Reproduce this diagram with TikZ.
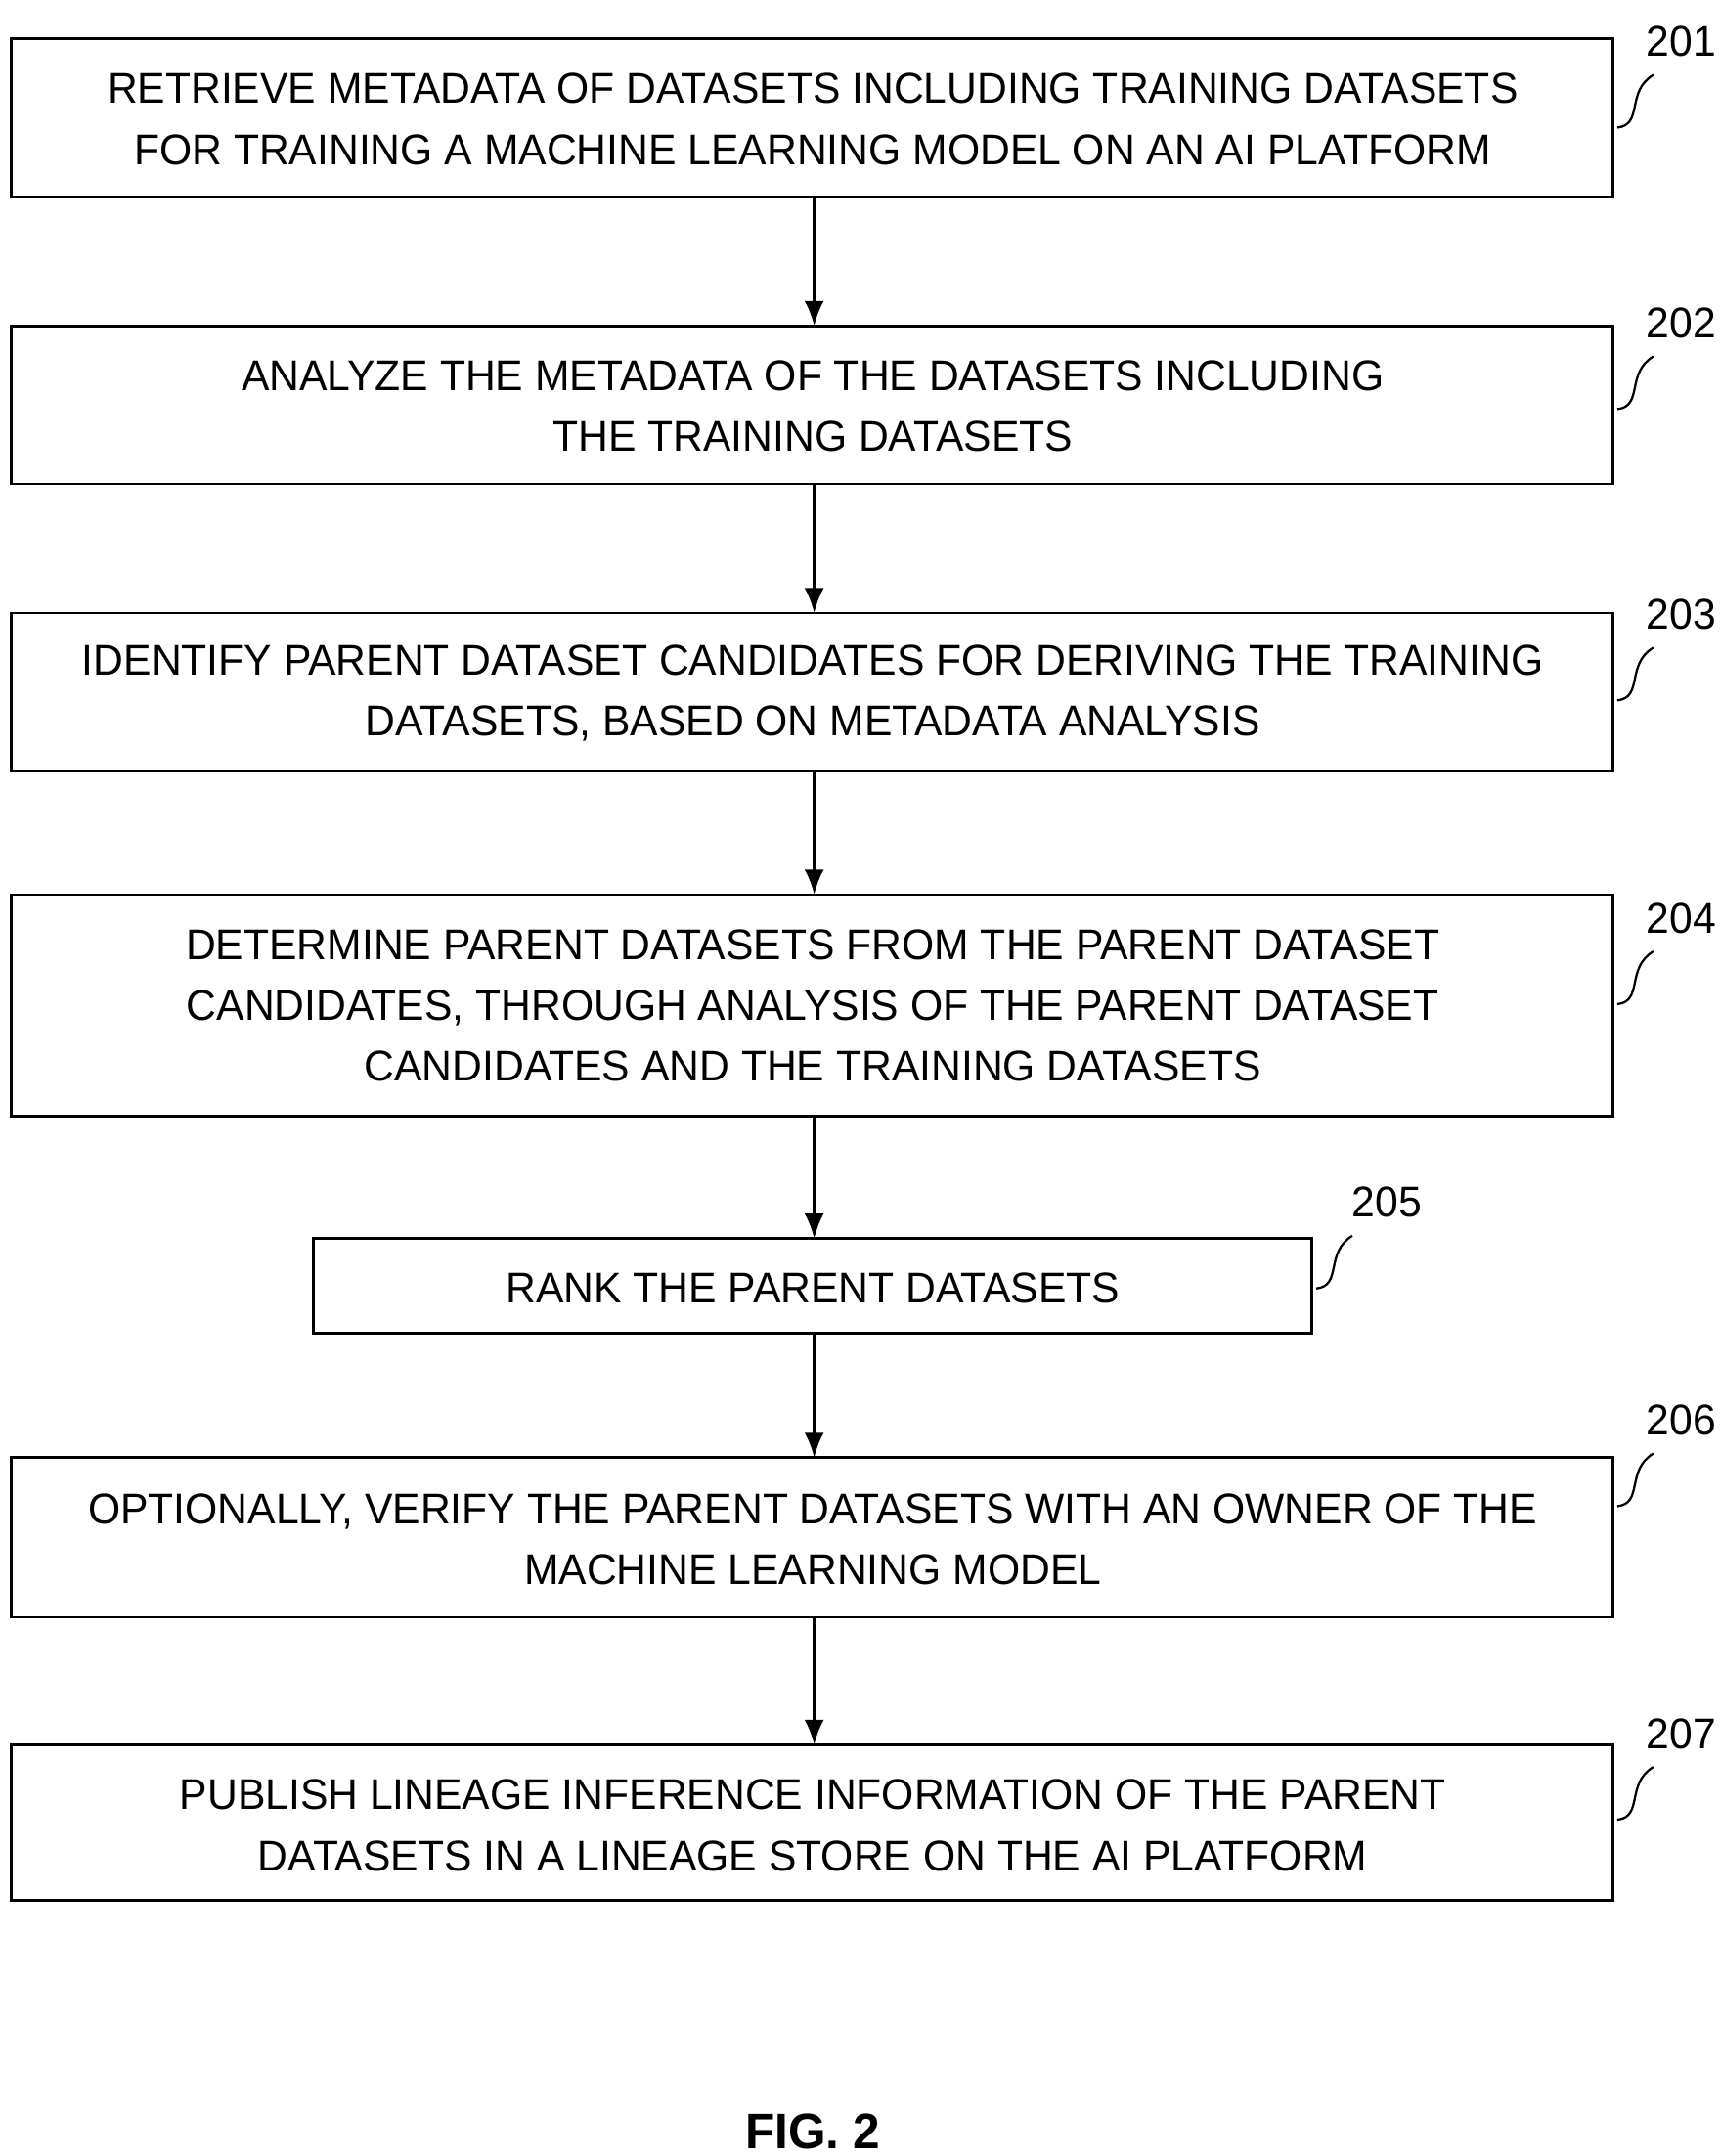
\documentclass[tikz,border=0pt]{standalone}
\usetikzlibrary{arrows.meta}
\usepackage{fontspec}
\setmainfont[FakeStretch=0.97]{Liberation Sans}
\begin{document}
\begin{tikzpicture}[x=1pt,y=-1pt,
 box/.style={draw,line width=2pt,inner sep=0pt},
 txt/.style={align=center,font=\fontsize{31}{44}\selectfont},
 lbl/.style={font=\fontsize{31}{36}\selectfont},
 arr/.style={-{Latex[length=18pt,width=14pt]},line width=2pt},
 lead/.style={line width=1.6pt}]
\useasboundingbox (0,0) rectangle (1240,1554.5);
\draw[box] (8,28) rectangle (1163,142) coordinate (b1e);
\node[txt] (t1) at (586,86) {RETRIEVE METADATA OF DATASETS INCLUDING TRAINING DATASETS\\FOR TRAINING A MACHINE LEARNING MODEL ON AN AI PLATFORM};
\draw[box] (8,235) rectangle (1163,349);
\node[txt] (t2) at (586,293) {ANALYZE THE METADATA OF THE DATASETS INCLUDING\\THE TRAINING DATASETS};
\draw[box] (8,442) rectangle (1163,556);
\node[txt] (t3) at (586,500) {IDENTIFY PARENT DATASET CANDIDATES FOR DERIVING THE TRAINING\\DATASETS, BASED ON METADATA ANALYSIS};
\draw[box] (8,645) rectangle (1163,805);
\node[txt] (t4) at (586,725) {DETERMINE PARENT DATASETS FROM THE PARENT DATASET\\CANDIDATES, THROUGH ANALYSIS OF THE PARENT DATASET\\CANDIDATES AND THE TRAINING DATASETS};
\draw[box] (226,893) rectangle (946,961);
\node[txt] (t5) at (586,929) {RANK THE PARENT DATASETS};
\draw[box] (8,1051) rectangle (1163,1166);
\node[txt] (t6) at (586,1110) {OPTIONALLY, VERIFY THE PARENT DATASETS WITH AN OWNER OF THE\\MACHINE LEARNING MODEL};
\draw[box] (8,1258) rectangle (1163,1370);
\node[txt] (t7) at (586,1316) {PUBLISH LINEAGE INFERENCE INFORMATION OF THE PARENT\\DATASETS IN A LINEAGE STORE ON THE AI PLATFORM};
\coordinate (a1) at (587,142); \coordinate (a2) at (587,235);
\coordinate (a3) at (587,349); \coordinate (a4) at (587,442);
\coordinate (a5) at (587,556); \coordinate (a6) at (587,645);
\coordinate (a7) at (587,805); \coordinate (a8) at (587,893);
\coordinate (a9) at (587,961); \coordinate (a10) at (587,1051);
\coordinate (a11) at (587,1166); \coordinate (a12) at (587,1258);
\draw[arr] (a1)--(a2); \draw[arr] (a3)--(a4); \draw[arr] (a5)--(a6);
\draw[arr] (a7)--(a8); \draw[arr] (a9)--(a10); \draw[arr] (a11)--(a12);
\foreach \n/\y in {201/30,202/233,203/443,204/662,206/1024,207/1250}{
 \node[lbl] (l\n) at (1212,\y) {\n};
 \draw[lead] (1166,\y+62) .. controls (1185,\y+60) and (1172,\y+36) .. (1192,\y+24);
}
\node[lbl] (l205) at (1000,867) {205};
\draw[lead] (949,929) .. controls (968,927) and (955,903) .. (975,891);
\node[font=\bfseries\fontsize{36}{40}\selectfont] (fig) at (586,1537) {FIG. 2};
\end{tikzpicture}
\end{document}
